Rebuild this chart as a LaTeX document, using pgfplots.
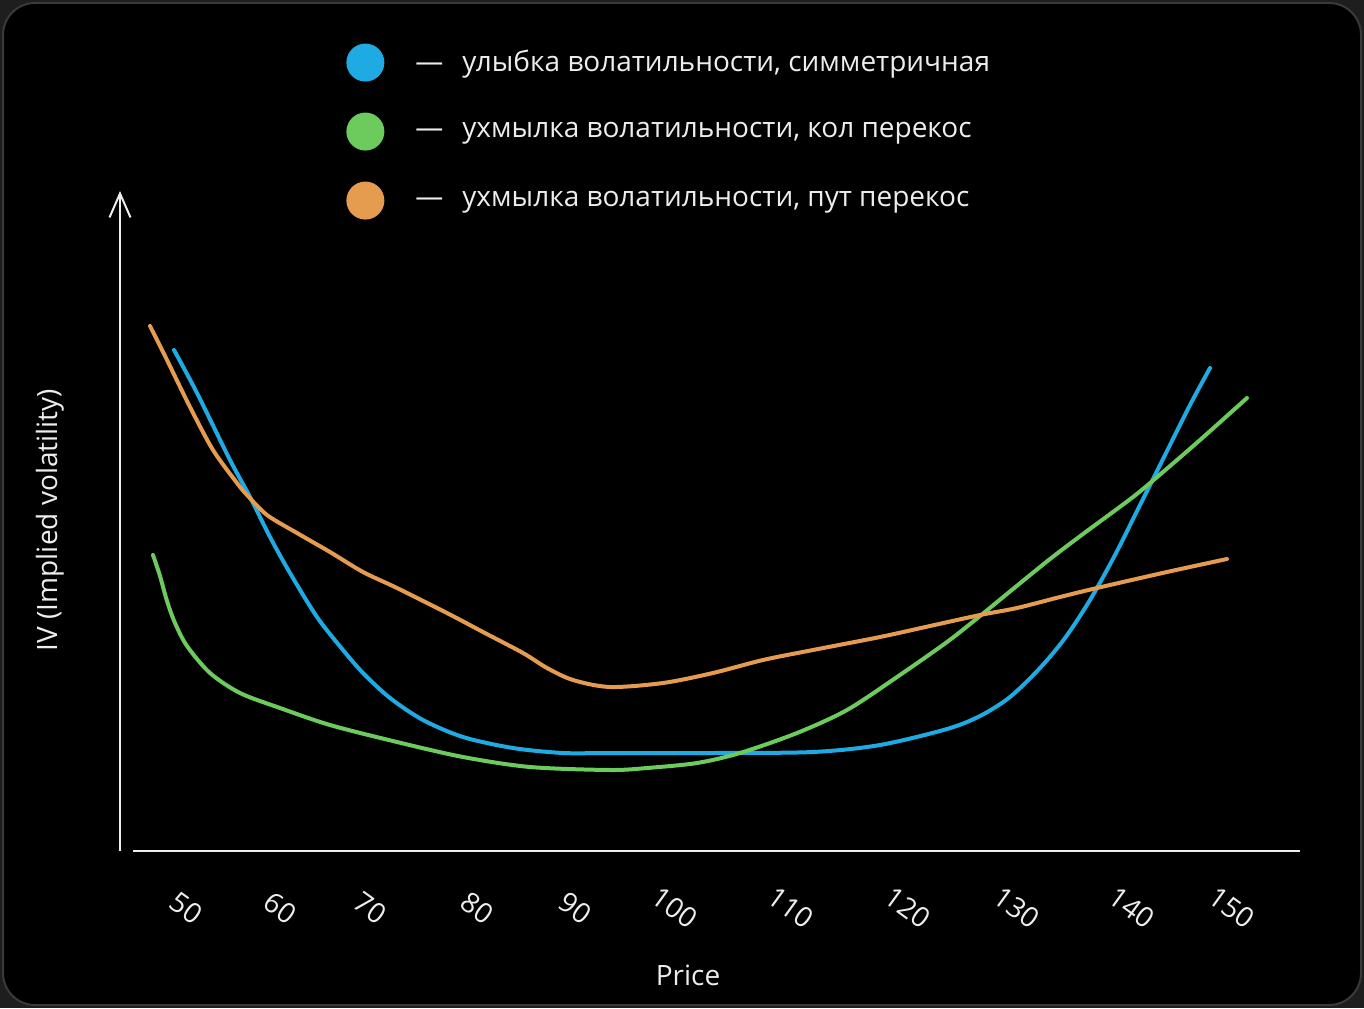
\documentclass[border=0pt]{standalone}
\usepackage{fontspec}
\setmainfont{Open Sans}
\usepackage{pgfplots}
\pgfplotsset{compat=1.18}
\usetikzlibrary{arrows.meta}

\definecolor{smile}{HTML}{1EAAE2}
\definecolor{callskew}{HTML}{6CCB5C}
\definecolor{putskew}{HTML}{E69C4E}
\definecolor{ink}{HTML}{EDEDED}
\definecolor{frame}{HTML}{3A3A3A}
\definecolor{outerbg}{HTML}{1E1E1E}

\newcommand\labelfont{\fontsize{14}{17}\selectfont}
\newcommand\dash{—\hspace{9.5pt}}

\begin{document}
\begin{tikzpicture}
\useasboundingbox (0,0) rectangle (682pt,504pt);
\fill[outerbg] (0,0) rectangle (682pt,504pt);
\filldraw[fill=black, draw=frame, line width=1pt, rounded corners=16pt]
  (1.5pt,1.5pt) rectangle (680.5pt,502.5pt);
\begin{axis}[
  at={(60pt,78.5pt)}, anchor=south west,
  x=0.5pt, y=0.5pt,
  xmin=120, xmax=1300, ymin=0, ymax=660,
  axis x line=bottom, axis y line=left,
  axis line style={ink, line width=1pt},
  x axis line style={-, shorten <=6.5pt},
  y axis line style={-{Straight Barb[length=12pt,width=10.5pt,line width=1pt]}},
  ytick=\empty,
  xtick={186,280,370,477,575,675,791,908,1017,1132,1232},
  xticklabels={50,60,70,80,90,100,110,120,130,140,150},
  major tick length=0pt,
  xticklabel style={yshift=-28.5pt, rotate=-36, anchor=center, font=\labelfont, text=ink},
  xlabel={Price},
  xlabel style={at={(axis description cs:0.4814,-0.1879)}, anchor=center, font=\labelfont, text=ink},
  ylabel={IV (Implied volatility)},
  ylabel style={at={(axis description cs:-0.0593,0.5015)}, anchor=center, font=\labelfont, text=ink},
  legend style={draw=none, fill=none, text=ink, font=\labelfont,
    at={(axis description cs:0.1915,1.224)}, anchor=north west,
    inner sep=0pt, row sep=15.5pt, column sep=0pt,
    nodes={inner sep=0pt}, cells={anchor=west}},
  legend image code/.code={\fill[#1, draw=none] (0pt,0pt) circle (9.5pt);
    \path[draw=none, fill=none] (0pt,0pt) -- (25pt,0pt);},
  every axis plot/.append style={line width=2pt, line cap=round, line join=round, smooth, mark=none},
]
% symmetric smile
\addplot[color=smile] coordinates {
  (174,501) (197,458) (230,391) (250,354) (270,314) (290,278) (317,234)
  (343,201) (363,178) (390,153) (423,131) (463,114) (513,103) (563,98)
  (610,98) (713,98) (813,99) (880,106) (947,122) (980,135) (1010,154)
  (1040,183) (1065,213) (1090,251) (1115,296) (1140,346) (1165,396)
  (1190,446) (1210,483)
};
\addlegendentry{\dash улыбка волатильности, симметричная}
% call skew
\addplot[color=callskew] coordinates {
  (153,296) (160,275) (167,250) (175,228) (187,205) (210,178) (240,158)
  (280,143) (330,126) (397,109) (463,94) (530,84) (610,81) (647,83)
  (697,88) (740,98) (797,118) (847,141) (897,174) (947,209) (980,235)
  (1013,262) (1050,292) (1083,317) (1133,354) (1163,379) (1200,411)
  (1247,453)
};
\addlegendentry{\dash ухмылка волатильности, кол перекос}
% put skew
\addplot[color=putskew] coordinates {
  (150,525) (167,491) (190,444) (213,401) (237,368) (247,356) (267,336)
  (297,318) (330,299) (363,279) (397,263) (447,238) (483,219) (523,198)
  (547,183) (573,171) (610,164) (663,168) (713,178) (763,191) (813,201)
  (880,214) (930,225) (980,236) (1017,243) (1060,254) (1097,263)
  (1167,279) (1227,292)
};
\addlegendentry{\dash ухмылка волатильности, пут перекос}
\end{axis}
\end{tikzpicture}
\end{document}
